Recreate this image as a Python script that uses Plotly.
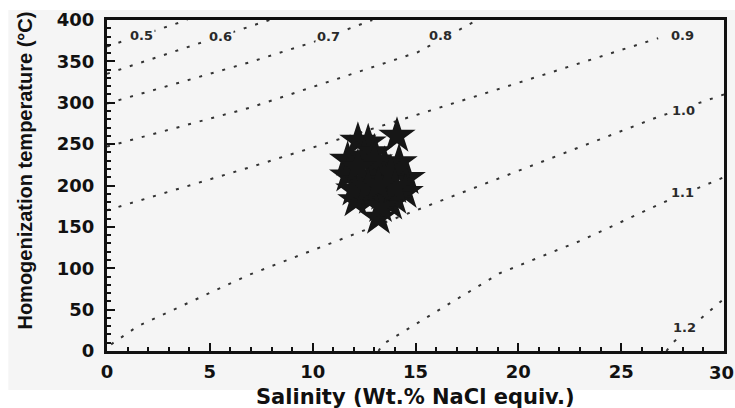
import plotly.graph_objects as go

# Fluid inclusion microthermometry: homogenization temperature vs. salinity
salinity = [12.2, 12.7, 14.1, 11.7, 11.7, 12.1, 14.6, 14.5, 14.2, 13.2, 13.8,
            12.5, 13.0, 13.5, 12.4, 13.0, 13.6, 12.8, 13.4, 14.0, 12.0, 13.3,
            13.0, 12.2, 13.8, 12.7, 14.0, 13.2]
th_c = [254, 252, 260, 231, 212, 182, 209, 192, 228, 161, 178,
        235, 240, 225, 205, 212, 205, 185, 190, 185, 195, 175,
        230, 222, 215, 198, 198, 200]

# Isochores of the H2O-NaCl system (bulk density, g/cm3)
iso_05_x = [0.0, 3.9]
iso_05_y = [368, 400]
iso_06_x = [0.0, 4.5, 7.9]
iso_06_y = [335, 372, 400]
iso_07_x = [0.0, 6.95, 10.0, 12.9]
iso_07_y = [299, 349, 373, 400]
iso_08_x = [0.0, 6.95, 15.1, 18.0]
iso_08_y = [247, 294, 361, 400]
iso_09_x = [0.0, 6.95, 19.1, 26.8]
iso_09_y = [170, 222, 317, 378]
iso_10_x = [0.2, 0.5, 1.5, 6.9, 26.7, 30.0]
iso_10_y = [8, 13, 30, 92, 282, 310]
iso_11_x = [13.2, 13.4, 16.7, 19.1, 23.1, 27.0, 30.0]
iso_11_y = [0, 8, 58, 94, 134, 179, 210]
iso_12_x = [27.2, 27.5, 29.8, 30.0]
iso_12_y = [0, 10, 59, 63]

density_labels = ["0.5", "0.6", "0.7", "0.8", "0.9", "1.0", "1.1", "1.2"]
label_x = [1.7, 5.5, 10.75, 16.2, 28.0, 28.05, 28.0, 28.1]
label_y = [381, 380, 380, 381, 381, 291, 191, 28]

x_ticks = [0, 5, 10, 15, 20, 25, 30]
y_ticks = [0, 50, 100, 150, 200, 250, 300, 350, 400]

BG = "#f5f5f5"
FONT = "DejaVu Sans"
INK = "#111111"

iso_x = [iso_05_x, iso_06_x, iso_07_x, iso_08_x, iso_09_x, iso_10_x, iso_11_x, iso_12_x]
iso_y = [iso_05_y, iso_06_y, iso_07_y, iso_08_y, iso_09_y, iso_10_y, iso_11_y, iso_12_y]

fig = go.Figure()

for xs, ys in zip(iso_x, iso_y):
    fig.add_trace(go.Scatter(
        x=xs, y=ys, mode="lines", hoverinfo="skip", showlegend=False,
        line=dict(color="#333333", width=2, dash="3px,9px"),
    ))

fig.add_trace(go.Scatter(
    x=salinity, y=th_c, mode="markers", showlegend=False,
    marker=dict(symbol="star", size=28, color="#161616", line=dict(width=0)),
))

annotations = []
for txt, lx, ly in zip(density_labels, label_x, label_y):
    annotations.append(dict(
        x=lx, y=ly, xref="x", yref="y", text=txt, showarrow=False,
        font=dict(family=FONT, size=13, color="#2a2a2a", weight="bold"),
        bgcolor=BG, borderpad=1,
    ))

# the last x tick label sits against the right edge of the page
annotations.append(dict(
    x=x_ticks[-1], y=0, xref="x", yref="paper", xanchor="center", yanchor="top",
    xshift=-3, yshift=-9, text=str(x_ticks[-1]), showarrow=False,
    font=dict(family=FONT, size=18, color=INK, weight="bold"),
))

annotations.append(dict(
    x=0.5, y=-0.14, xref="paper", yref="paper", xanchor="center", yanchor="middle",
    text="Salinity (Wt.% NaCl equiv.)", showarrow=False,
    font=dict(family=FONT, size=21, color=INK, weight="bold"),
))
annotations.append(dict(
    x=-0.133, y=0.545, xref="paper", yref="paper", xanchor="center", yanchor="middle",
    text="Homogenization temperature (°C)", showarrow=False, textangle=-90,
    font=dict(family="Liberation Sans", size=20, color=INK, weight="bold"),
))

axis_common = dict(
    showgrid=False, zeroline=False, showline=True, linewidth=3, linecolor=INK,
    mirror=True, ticks="inside", ticklen=8, tickwidth=2, tickcolor=INK,
    automargin=False,
    tickfont=dict(family=FONT, size=18, color=INK, weight="bold"),
)

fig.update_xaxes(
    range=[0, 30], tickvals=x_ticks[:-1], ticklabelstandoff=2,
    minor=dict(dtick=1, ticks="inside", ticklen=4, tickwidth=2, tickcolor=INK),
    **axis_common,
)
fig.update_yaxes(
    range=[0, 400], tickvals=y_ticks, ticklabelstandoff=6,
    minor=dict(dtick=10, ticks="inside", ticklen=4, tickwidth=2, tickcolor=INK),
    **axis_common,
)

fig.update_layout(
    width=735, height=408,
    margin=dict(l=107, r=11, t=20, b=57),
    paper_bgcolor="white", plot_bgcolor=BG,
    annotations=annotations,
    shapes=[dict(type="rect", xref="paper", yref="paper", layer="below",
                 x0=-0.16, x1=1.02, y0=-0.118, y1=1.03,
                 fillcolor=BG, line=dict(width=0))],
)

fig.write_html("out.html")
